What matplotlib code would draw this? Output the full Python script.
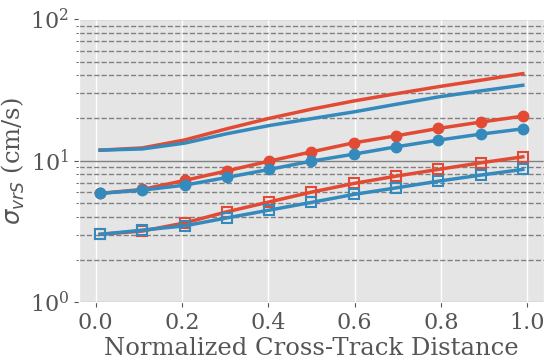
import matplotlib
matplotlib.use("Agg")
import matplotlib.pyplot as plt
import numpy as np

plt.style.use("ggplot")
plt.rcParams["font.family"] = "DejaVu Serif"

x = [0.01, 0.108, 0.206, 0.304, 0.402, 0.5, 0.598, 0.696, 0.794, 0.892, 0.99]

red_top = [11.86, 12.3, 14.0, 16.8, 19.9, 23.1, 26.4, 29.7, 33.3, 37.0, 41.2]
blue_top = [11.86, 12.1, 13.3, 15.5, 17.7, 19.8, 22.1, 25.0, 28.2, 31.1, 34.1]

red_circ = [5.87, 6.26, 7.25, 8.47, 9.92, 11.54, 13.36, 14.97, 16.89, 18.72, 20.63]
blue_circ = [5.87, 6.19, 6.71, 7.61, 8.67, 9.92, 11.11, 12.52, 13.96, 15.39, 16.78]

red_sq = [3.02, 3.18, 3.63, 4.35, 5.11, 5.99, 6.90, 7.77, 8.67, 9.65, 10.64]
blue_sq = [3.01, 3.23, 3.46, 3.94, 4.47, 5.07, 5.77, 6.42, 7.16, 7.90, 8.67]

RED = "#E24A33"
BLUE = "#348ABD"

fig = plt.figure(figsize=(5.5, 3.61), dpi=100)
ax = fig.add_axes([0.1436, 0.163, 0.8454, 0.784])

lw = 2.5
ax.plot(x, red_top, color=RED, lw=lw)
ax.plot(x, blue_top, color=BLUE, lw=lw)
ax.plot(x, red_circ, color=RED, lw=lw, marker="o", ms=7.5)
ax.plot(x, blue_circ, color=BLUE, lw=lw, marker="o", ms=7.5)
ax.plot(x, red_sq, color=RED, lw=lw, marker="s", ms=7.5, mfc="none", mew=1.5)
ax.plot(x, blue_sq, color=BLUE, lw=lw, marker="s", ms=7.5, mfc="none", mew=1.5)

ax.set_yscale("log")
ax.set_ylim(1, 100)
ax.set_xticks([0.0, 0.2, 0.4, 0.6, 0.8, 1.0])
ax.xaxis.grid(True, color="white", lw=1)
ax.yaxis.grid(True, which="major", color="gray", ls="-", lw=1)
ax.yaxis.grid(True, which="minor", color="gray", ls="--", lw=1)
ax.set_axisbelow(True)
ax.tick_params(labelsize=16, colors="#555555")
ax.tick_params(axis="y", which="minor", length=2)

ax.set_xlabel("Normalized Cross-Track Distance", fontsize=17.5, color="#555555", labelpad=2)
ax.set_ylabel(r"$\sigma_{vrS}$ (cm/s)", fontsize=17.5, color="#555555", labelpad=2)

fig.savefig("out.png", dpi=100)
